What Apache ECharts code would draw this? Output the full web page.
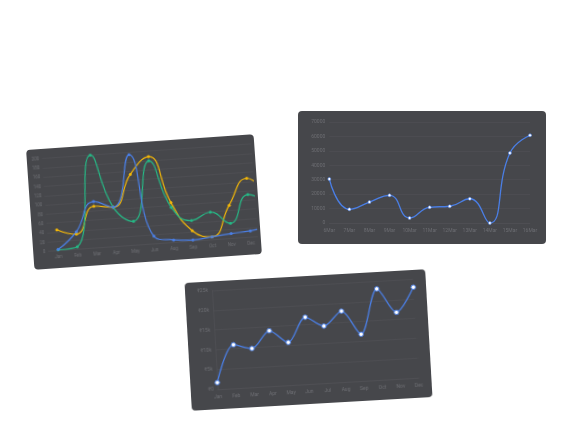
<!DOCTYPE html>
<html>
<head>
<meta charset="utf-8">
<script src="https://cdn.jsdelivr.net/npm/echarts@6/dist/echarts.min.js"></script>
<style>
  html, body { margin: 0; padding: 0; background: #fff; }
  body { width: 577px; height: 433px; position: relative; overflow: hidden; }
  .card {
    position: absolute;
    background: #46474b;
    border-radius: 4px;
    overflow: hidden;
  }
  .clip { position: absolute; left: 0; top: 0; overflow: hidden; }
  .chart { position: absolute; left: 0; top: 0; }
  #c1 { left: 29.5px; top: 142px; width: 228px; height: 120px; transform: rotate(-4deg); }
  #c2 { left: 298px; top: 111px; width: 248px; height: 133px; }
  #c3 { left: 187.5px; top: 275.5px; width: 241px; height: 128px; transform: rotate(-3.3deg); }
</style>
</head>
<body>
<!-- the first chart is wider than its card, so the last month is cut off a little before the edge -->
<div class="card" id="c1">
  <div class="clip" style="width:225px;height:120px">
    <div class="chart" id="chart1" style="width:247px;height:120px"></div>
  </div>
</div>
<div class="card" id="c2"><div class="chart" id="chart2" style="width:248px;height:133px"></div></div>
<div class="card" id="c3"><div class="chart" id="chart3" style="width:241px;height:128px"></div></div>
<script>
// card 1 - three series
const months1 = ['Jan', 'Feb', 'Mar', 'Apr', 'May', 'Jun', 'Aug', 'Sep', 'Oct', 'Nov', 'Dec', '']
const blue1 = [3, 38, 100, 85, 195, 17, 6, 3, 7, 11, 14, 20]
const yellow1 = [45, 33, 90, 85, 153, 188, 86, 23, 7, 72, 127, 85]
const green1 = [2, 6, 200, 85, 52, 179, 76, 45, 60, 33, 92, 70]

// card 2
const days2 = ['6Mar', '7Mar', '8Mar', '9Mar', '10Mar', '11Mar', '12Mar', '13Mar', '14Mar', '15Mar', '16Mar']
const values2 = [30500, 9500, 14500, 19200, 3500, 10900, 11600, 16800, 0, 48500, 60800]

// card 3
const months3 = ['Jan', 'Feb', 'Mar', 'Apr', 'May', 'Jun', 'Jul', 'Aug', 'Sep', 'Oct', 'Nov', 'Dec']
const values3 = [1700, 11000, 9800, 14000, 10800, 16900, 14400, 17900, 11800, 23000, 16800, 22900]
const yTicks3 = ['₹0', '₹5k', '₹10k', '₹15k', '₹20k', '₹25k']

const BLUE = '#4a7ee4'
const YELLOW = '#f3b707'
const GREEN = '#25b885'
const LABEL = '#6c6d72'
const GRID = '#505156'
const FONT = 'Roboto, sans-serif'

function lineSeries(data, color, opts) {
  return Object.assign({
    type: 'line',
    data: data,
    smooth: true,
    symbol: 'circle',
    symbolSize: 3,
    lineStyle: { color: color, width: 1.2 },
    itemStyle: { color: color },
    animation: false
  }, opts || {})
}

const chart1 = echarts.init(document.getElementById('chart1'))
chart1.setOption({
  backgroundColor: 'transparent',
  grid: { left: 15.4, right: 0, top: 9.5, bottom: 17.3 },
  xAxis: {
    type: 'category',
    data: months1,
    boundaryGap: true,
    axisLine: { lineStyle: { color: GRID, width: 0.6 } },
    axisTick: { show: false },
    axisLabel: { color: LABEL, fontSize: 4.5, fontFamily: FONT, margin: 4, interval: 0 }
  },
  yAxis: {
    type: 'value',
    min: 0,
    max: 200,
    interval: 20,
    axisLine: { show: false },
    axisTick: { show: false },
    axisLabel: { color: LABEL, fontSize: 4.5, fontFamily: FONT, margin: 3 },
    splitLine: { lineStyle: { color: GRID, width: 0.6 } }
  },
  series: [
    lineSeries(yellow1, YELLOW),
    lineSeries(green1, GREEN),
    lineSeries(blue1, BLUE)
  ]
})

const chart2 = echarts.init(document.getElementById('chart2'))
chart2.setOption({
  backgroundColor: 'transparent',
  grid: { left: 31.3, right: 16, top: 11, bottom: 21 },
  xAxis: {
    type: 'category',
    data: days2,
    boundaryGap: false,
    axisLine: { lineStyle: { color: GRID, width: 0.6 } },
    axisTick: { show: false },
    axisLabel: { color: LABEL, fontSize: 5, fontFamily: FONT, margin: 5, interval: 0 }
  },
  yAxis: {
    type: 'value',
    min: 0,
    max: 70000,
    interval: 10000,
    axisLine: { show: false },
    axisTick: { show: false },
    axisLabel: {
      color: LABEL, fontSize: 5, fontFamily: FONT, margin: 4,
      formatter: function (v) { return String(v) }
    },
    splitLine: { lineStyle: { color: GRID, width: 0.6 } }
  },
  series: [
    lineSeries(values2, BLUE, {
      symbolSize: 3,
      lineStyle: { color: BLUE, width: 1.3 },
      itemStyle: { color: '#fff', borderColor: BLUE, borderWidth: 0.6 }
    })
  ]
})

const chart3 = echarts.init(document.getElementById('chart3'))
chart3.setOption({
  backgroundColor: 'transparent',
  grid: { left: 27, right: 12.8, top: 9, bottom: 20 },
  xAxis: {
    type: 'category',
    data: months3,
    boundaryGap: false,
    axisLine: { lineStyle: { color: GRID, width: 0.6 } },
    axisTick: { show: false },
    axisLabel: { color: LABEL, fontSize: 5, fontFamily: FONT, margin: 5, interval: 0 }
  },
  yAxis: {
    type: 'value',
    min: 0,
    max: 25000,
    interval: 5000,
    axisLine: { show: true, lineStyle: { color: GRID, width: 0.6 } },
    axisTick: { show: false },
    axisLabel: {
      color: LABEL, fontSize: 5, fontFamily: FONT, margin: 4,
      formatter: function (v) { return yTicks3[Math.round(v / 5000)] }
    },
    splitLine: { lineStyle: { color: GRID, width: 0.6 } }
  },
  series: [
    lineSeries(values3, BLUE, {
      smooth: 0.3,
      symbolSize: 4.5,
      lineStyle: { color: BLUE, width: 1.3 },
      itemStyle: { color: '#fff', borderColor: BLUE, borderWidth: 1 }
    })
  ]
})
</script>
</body>
</html>
